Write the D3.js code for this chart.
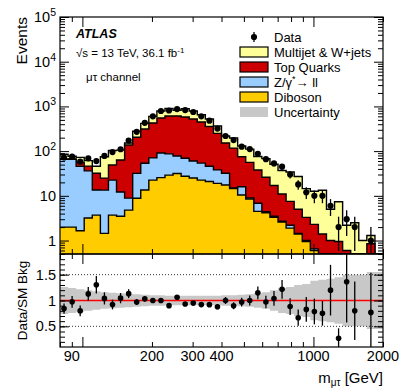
<!DOCTYPE html>
<html>
<head>
<meta charset="utf-8">
<script src="https://cdn.jsdelivr.net/npm/d3@7"></script>
<style>
  body { margin: 0; background: #fff; }
  svg { font-family: "Liberation Sans", Arial, Helvetica, sans-serif; }
</style>
</head>
<body>
<div id="chart"></div>
<script>
// bin edges of m_mutau [GeV]
const binEdges = [80, 86.70, 93.97, 101.84, 110.38, 119.63, 129.66, 140.52, 152.30, 165.06,
  178.89, 193.88, 210.13, 227.74, 246.82, 267.50, 289.92, 314.21, 340.54, 369.08,
  400, 433.52, 469.85, 509.22, 551.89, 598.14, 648.27, 702.59, 761.46, 825.27,
  894.43, 969.38, 1050.6, 1138.7, 1234.1, 1337.5, 1449.6, 1571.1, 1702.7, 1845.4, 2000]

// background yields per bin (events)
const diboson = [2.0, 2.0, 1.65, 3.2, 3.7, 1.45, 3.7, 3.5, 4.8, 8.8,
  13.5, 22.5, 25.5, 29, 31.5, 27.5, 25, 22.5, 21, 19,
  17.5, 14.5, 10.4, 8.5, 4.5, 4.2, 3.3, 2.6, 1.9, 1.4,
  0.95, 0.6, 0.4, 0.3, 0.25, 0.2, 0.15, 0.12, 0.1, 0.08]
const zll = [64, 64, 44, 33, 9.8, 12, 18.8, 8.7, 4.1, 23,
  40, 48, 65, 58, 46, 42, 35, 31.5, 25, 19,
  14.5, 0.5, 5.6, 0.5, 2.3, 0.2, 0.2, 0.1, 0.3, 0.05,
  0.05, 0.05, 0.05, 0.01, 0.01, 0.01, 0.01, 0.01, 0.01, 0.01]
const topQuarks = [0.3, 1, 11, 10, 18.5, 11.5, 26.5, 51, 128, 173,
  258, 354, 460, 523, 532, 510, 463, 394, 309, 212,
  120, 102, 59, 47, 31, 21.6, 13.5, 8.3, 5.3, 3.55,
  2.3, 1.65, 0.95, 0.69, 0.69, 0.39, 0.24, 0.22, 0.74, 0.21]
const multijet = [19, 10, 16, 15, 14, 50, 54, 42, 15, 73,
  105, 175, 240, 290, 210, 312, 267, 204, 167, 114,
  66, 80, 55, 55, 38, 42, 34, 26, 26.5, 22,
  11.2, 10.4, 11.9, 4.0, 6.45, 1.6, 2.1, 0.65, 0.45, 0.1]

// observed events and relative background uncertainty
const dataObs = [72, 75, 58, 69, 60, 78, 95, 110, 172, 270,
  430, 600, 790, 810, 870, 830, 750, 600, 480, 320,
  218, 177, 126, 111, 87, 66, 53, 45, 30, 18,
  12, 10, 10, 6, 2, 3, 2, 0, 1, 0]
const relUnc = [0.26, 0.24, 0.22, 0.2, 0.18, 0.16, 0.15, 0.14, 0.13, 0.12,
  0.11, 0.1, 0.1, 0.09, 0.09, 0.09, 0.09, 0.09, 0.09, 0.09,
  0.1, 0.1, 0.11, 0.12, 0.14, 0.16, 0.2, 0.24, 0.26, 0.3,
  0.32, 0.38, 0.4, 0.42, 0.45, 0.5, 0.5, 0.5, 0.55, 0.55]

const xLabels = [90, 200, 300, 400, 1000, 2000]
const ratioLabels = ["0.5", "1", "1.5"]

const legendEntries = [
  { name: "Data", type: "data" },
  { name: "Multijet & W+jets", color: "#ffff99" },
  { name: "Top Quarks", color: "#cc0000" },
  { name: "Z/γ*→ ll", color: "#99ccff", sup: true },
  { name: "Diboson", color: "#ffcc00" },
  { name: "Uncertainty", color: "#c8c8c8", noStroke: true }
]

const mainApp = () => {
  const width = 407, height = 391
  const left = 60, right = 383
  const top = 17, mid = 254, bottom = 347

  const svg = d3.select('#chart').append('svg')
    .attr('width', width).attr('height', height)

  const x = d3.scaleLog().domain([80, 2000]).range([left, right])
  const y = d3.scaleLog().domain([0.5, 1e5]).range([mid, top]).clamp(true)
  const r = d3.scaleLinear().domain([0.1, 1.9]).range([bottom, mid])

  const nb = diboson.length
  const bins = d3.range(nb).map(i => {
    const d = diboson[i], z = d + zll[i], t = z + topQuarks[i], m = t + multijet[i]
    return { lo: binEdges[i], hi: binEdges[i + 1], dib: d, zll: z, top: t, tot: m,
      data: dataObs[i], unc: relUnc[i] }
  })

  svg.append('defs').append('clipPath').attr('id', 'clipMain')
    .append('rect').attr('x', left).attr('y', top).attr('width', right - left).attr('height', mid - top)
  svg.select('defs').append('clipPath').attr('id', 'clipRatio')
    .append('rect').attr('x', left).attr('y', mid).attr('width', right - left).attr('height', bottom - mid)

  // step outline points for a cumulative layer
  const stepPts = key => {
    const pts = []
    bins.forEach(b => { pts.push([b.lo, b[key]]); pts.push([b.hi, b[key]]) })
    return pts
  }

  const gMain = svg.append('g').attr('clip-path', 'url(#clipMain)')
  const layers = [
    { key: 'tot', color: '#ffff99' },
    { key: 'top', color: '#cc0000' },
    { key: 'zll', color: '#99ccff' },
    { key: 'dib', color: '#ffcc00' }
  ]
  const area = d3.area().x(p => x(p[0])).y0(mid + 2).y1(p => y(Math.max(p[1], 0.3)))
  const line = d3.line().x(p => x(p[0])).y(p => y(Math.max(p[1], 0.3)))
  layers.forEach(l => {
    const pts = stepPts(l.key)
    gMain.append('path').attr('d', area(pts)).attr('fill', l.color)
    gMain.append('path').attr('d', line(pts)).attr('fill', 'none')
      .attr('stroke', '#000').attr('stroke-width', 1.4)
  })

  // data points (main)
  const withData = bins.filter(b => b.data > 0)
  const xc = b => x(Math.sqrt(b.lo * b.hi))
  gMain.selectAll('line.err').data(withData).enter().append('line')
    .attr('x1', xc).attr('x2', xc)
    .attr('y1', b => y(b.data + Math.sqrt(b.data)))
    .attr('y2', b => y(Math.max(b.data - Math.sqrt(b.data), 0.01)))
    .attr('stroke', '#000').attr('stroke-width', 1.3)
  gMain.selectAll('circle').data(withData).enter().append('circle')
    .attr('cx', xc).attr('cy', b => y(b.data)).attr('r', 3.1).attr('fill', '#000')

  // ratio panel
  const gRatio = svg.append('g').attr('clip-path', 'url(#clipRatio)')
  const band = d3.area().x(p => x(p[0])).y0(p => r(1 - p[1])).y1(p => r(1 + p[1]))
  const bandPts = []
  bins.forEach(b => { bandPts.push([b.lo, b.unc]); bandPts.push([b.hi, b.unc]) })
  gRatio.append('path').attr('d', band(bandPts)).attr('fill', '#c8c8c8')

  ;[0.5, 1.5].forEach(v => {
    gRatio.append('line').attr('x1', left).attr('x2', right).attr('y1', r(v)).attr('y2', r(v))
      .attr('stroke', '#000').attr('stroke-width', 0.8).attr('stroke-dasharray', '1,2')
  })
  gRatio.append('line').attr('x1', left).attr('x2', right).attr('y1', r(1)).attr('y2', r(1))
    .attr('stroke', '#ff0000').attr('stroke-width', 1.5)

  gRatio.selectAll('line.rerr').data(withData).enter().append('line')
    .attr('x1', xc).attr('x2', xc)
    .attr('y1', b => r((b.data + Math.sqrt(b.data)) / b.tot))
    .attr('y2', b => r((b.data - Math.sqrt(b.data)) / b.tot))
    .attr('stroke', '#000').attr('stroke-width', 1.3)
  gRatio.selectAll('circle').data(withData).enter().append('circle')
    .attr('cx', xc).attr('cy', b => r(b.data / b.tot)).attr('r', 2.8).attr('fill', '#000')

  // frames
  ;[[top, mid], [mid, bottom]].forEach(([a, b]) => {
    svg.append('rect').attr('x', left).attr('y', a).attr('width', right - left).attr('height', b - a)
      .attr('fill', 'none').attr('stroke', '#000').attr('stroke-width', 1.2)
  })

  // ticks (ROOT style, inside)
  const tick = (g, axisFn, scale, values, size) => {
    g.call(axisFn(scale).tickValues(values).tickSize(size).tickFormat(''))
    g.select('.domain').remove()
    g.selectAll('line').attr('stroke', '#000').attr('stroke-width', 1)
  }
  const xMajor = [100, 1000]
  const xMinor = [80, 90, 200, 300, 400, 500, 600, 700, 800, 900, 2000]
  ;[[mid, d3.axisBottom], [top, d3.axisTop], [bottom, d3.axisBottom], [mid, d3.axisTop]]
    .forEach(([pos, fn]) => {
      tick(svg.append('g').attr('transform', `translate(0,${pos})`), fn, x, xMajor, -10)
      tick(svg.append('g').attr('transform', `translate(0,${pos})`), fn, x, xMinor, -5)
    })

  const yMajor = [1, 10, 100, 1e3, 1e4, 1e5]
  const yMinor = []
  ;[0.5, 0.6, 0.7, 0.8, 0.9].forEach(v => yMinor.push(v))
  ;[1, 10, 100, 1000, 10000].forEach(d => d3.range(2, 10).forEach(k => yMinor.push(k * d)))
  ;[[left, d3.axisLeft], [right, d3.axisRight]].forEach(([pos, fn]) => {
    tick(svg.append('g').attr('transform', `translate(${pos},0)`), fn, y, yMajor, -9)
    tick(svg.append('g').attr('transform', `translate(${pos},0)`), fn, y, yMinor, -5)
  })
  const rMajor = [0.5, 1, 1.5]
  const rMinor = d3.range(2, 19).map(v => v / 10)
  ;[[left, d3.axisLeft], [right, d3.axisRight]].forEach(([pos, fn]) => {
    tick(svg.append('g').attr('transform', `translate(${pos},0)`), fn, r, rMajor, -9)
    tick(svg.append('g').attr('transform', `translate(${pos},0)`), fn, r, rMinor, -5)
  })

  // tick labels
  const yLab = svg.append('g').attr('font-size', 14.5).attr('fill', '#000')
  yMajor.forEach((v, i) => {
    const t = yLab.append('text').attr('x', 56).attr('y', y(v) + 5).attr('text-anchor', 'end')
    if (i === 0) t.text('1')
    else if (i === 1) t.text('10')
    else {
      t.append('tspan').text('10')
      t.append('tspan').attr('dy', -6).attr('font-size', 10.5).text(String(i))
    }
  })
  ratioLabels.forEach(s => {
    yLab.append('text').attr('x', 56).attr('y', r(+s) + 5).attr('text-anchor', 'end').text(s)
  })
  xLabels.forEach(v => {
    yLab.append('text').attr('x', x(v)).attr('y', 361).attr('text-anchor', 'middle').text(v)
  })

  // axis titles
  svg.append('text').attr('transform', `translate(27,${top}) rotate(-90)`)
    .attr('text-anchor', 'end').attr('font-size', 15.5).text('Events')
  svg.append('text').attr('transform', `translate(27,${(mid + bottom) / 2}) rotate(-90)`)
    .attr('text-anchor', 'middle').attr('font-size', 13.5).text('Data/SM Bkg')
  const xt = svg.append('text').attr('x', right).attr('y', 383).attr('text-anchor', 'end').attr('font-size', 15)
  xt.append('tspan').text('m')
  xt.append('tspan').attr('dy', 3).attr('font-size', 10).text('μτ')
  xt.append('tspan').attr('dy', -3).text(' [GeV]')

  // labels
  svg.append('text').attr('x', 76).attr('y', 38).attr('font-size', 12.5)
    .attr('font-weight', 'bold').attr('font-style', 'italic').text('ATLAS')
  const ecm = svg.append('text').attr('x', 76).attr('y', 57).attr('font-size', 11.5)
  ecm.append('tspan').text('√s = 13 TeV, 36.1 fb')
  ecm.append('tspan').attr('dy', -4).attr('font-size', 8).text('-1')
  svg.append('text').attr('x', 86).attr('y', 81).attr('font-size', 11.5).text('μτ channel')

  // legend
  const lg = svg.append('g').attr('font-size', 13)
  legendEntries.forEach((e, i) => {
    const yy = 37 + i * 15
    if (e.type === 'data') {
      lg.append('line').attr('x1', 254).attr('x2', 254).attr('y1', yy - 5).attr('y2', yy + 5)
        .attr('stroke', '#000').attr('stroke-width', 1.3)
      lg.append('circle').attr('cx', 254).attr('cy', yy).attr('r', 3.1)
    } else {
      lg.append('rect').attr('x', 240).attr('y', yy - 5).attr('width', 28).attr('height', 10)
        .attr('fill', e.color).attr('stroke', e.noStroke ? 'none' : '#000').attr('stroke-width', 1.2)
    }
    const t = lg.append('text').attr('x', 274).attr('y', yy + 4.5)
    if (e.sup) {
      t.append('tspan').text('Z/γ')
      t.append('tspan').attr('dy', -5).attr('font-size', 9).text('*')
      t.append('tspan').attr('dy', 5).text('→ ll')
    } else t.text(e.name)
  })
}

mainApp()
</script>
</body>
</html>
